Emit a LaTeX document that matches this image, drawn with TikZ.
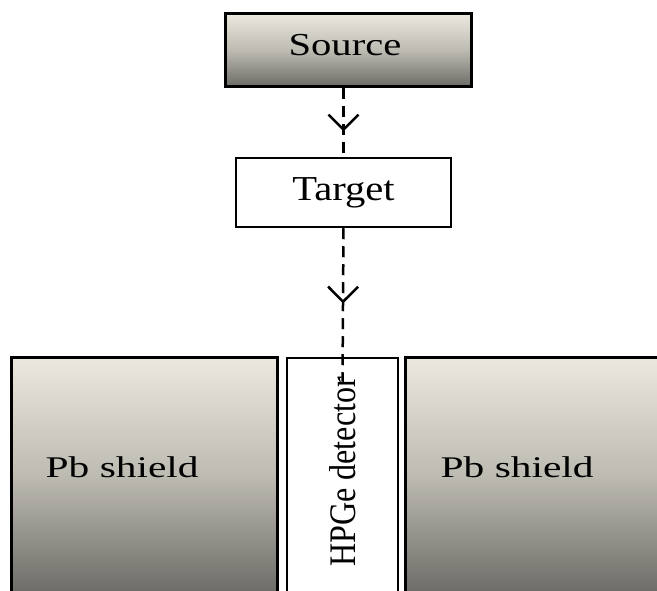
\documentclass[tikz,border=0pt]{standalone}
\usepackage{fontspec}
\setmainfont{Liberation Serif}
\usepackage{xcolor}
\usepackage{graphicx}
\definecolor{shtop}{HTML}{EBE9DF}
\definecolor{shmid}{HTML}{BCBAB1}
\definecolor{shbot}{HTML}{6B6A65}
\usetikzlibrary{calc,positioning,arrows.meta,decorations.markings}
\begin{document}
\begin{tikzpicture}[x=1pt,y=1pt]
	\tikzset{
		chrome/.style={draw=black,line width=3pt,inner sep=0pt,top color=shtop,bottom color=shbot,middle color=shmid},
		plainbox/.style={draw=black,line width=2.5pt,inner sep=0pt,fill=white},
		stylefont/.style={font=\fontsize{#1}{#1}\selectfont,text=black,inner sep=0pt},
		stylefont/.default=30,
		beam/.style={line width=2.5pt,dash pattern=on 11pt off 7pt,postaction={decorate},
			decoration={markings,mark=at position #1 with {\arrow[line width=2.5pt]{Straight Barb[length=15pt,width=30pt]}}}}
	}
	\useasboundingbox (0,0) rectangle (657,590);
	%%%Draw the source and the target
	\node[chrome,minimum width=246,minimum height=73] (source) at (348,539.5) {};
	\node[stylefont=32] (srclab) at ($(source)+(-3,5)$) {\scalebox{1.27}[1]{Source}};
	\node[plainbox,minimum width=215,minimum height=69] (target) at (343.5,397.5) {};
	\node[stylefont=35] (tgtlab) at (target) {\scalebox{1.16}[1]{Target}};
	%%%Draw the shields and the detector
	\node[chrome,minimum width=266,minimum height=237] (shieldL) at (144,113.5) {};
	\node[plainbox,minimum width=111,minimum height=237] (detector) at (342.5,113.5) {};
	\node[chrome,minimum width=265,minimum height=237] (shieldR) at (537.5,113.5) {};
	\node[stylefont,anchor=west] (labL) at ($(shieldL.west)+(36,9.5)$) {\scalebox{1.38}[1]{Pb shield}};
	\node[stylefont,anchor=west] (labR) at ($(shieldR.west)+(37,9.5)$) {\scalebox{1.38}[1]{Pb shield}};
	\node[stylefont,rotate=90] (detlab) at ($(detector)+(0,4.5)$) {\scalebox{1.07}[1.25]{HPGe detector}};
	%%%Beam path
	\coordinate (hit) at ($(detector.north)+(0,-25)$);
	\draw[beam=0.63] (source.south -| target) -- (target.north);
	\draw[beam=0.49] (target.south) -- (hit);
\end{tikzpicture}
\end{document}
